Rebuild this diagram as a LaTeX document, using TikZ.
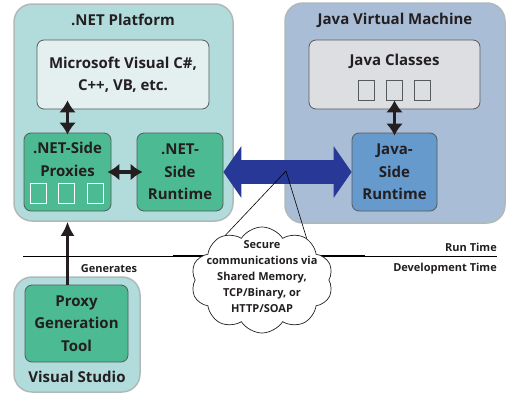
\documentclass[tikz,border=0pt]{standalone}
\usepackage{fontspec}
\setmainfont{Open Sans}
\usetikzlibrary{arrows.meta,shapes.symbols}

\definecolor{netbg}{RGB}{178,220,220}
\definecolor{jvmbg}{RGB}{170,189,214}
\definecolor{rimgray}{RGB}{176,184,186}
\definecolor{msfill}{RGB}{228,239,239}
\definecolor{jcfill}{RGB}{220,222,226}
\definecolor{boxgreen}{RGB}{76,186,146}
\definecolor{jrtblue}{RGB}{102,153,204}
\definecolor{boxedge}{RGB}{85,90,90}
\definecolor{arrowblue}{RGB}{40,56,150}
\definecolor{txt}{RGB}{35,31,32}

\begin{document}
\begin{tikzpicture}[x=1pt,y=-1pt,
    every node/.style={text=txt,font=\bfseries\fontsize{15}{22.5}\selectfont,align=center},
    outerbox/.style={draw=rimgray,line width=1.5pt,rounded corners=18pt,inner sep=0pt},
    innerbox/.style={draw=boxedge,line width=0.8pt,rounded corners=7pt,inner sep=0pt},
    smallsq/.style={line width=0.8pt,minimum width=16pt,minimum height=20pt,inner sep=0pt},
    dbl/.style={{Latex[length=12pt,width=17pt]}-{Latex[length=12pt,width=17pt]},line width=3.2pt,draw=txt},
    small/.style={font=\bfseries\fontsize{11}{16}\selectfont}]
    \useasboundingbox (0,0) rectangle (511,394);

    % outer frames
    \node[outerbox,fill=netbg,minimum width=219pt,minimum height=217pt] (net) at (123.5,112.5) {};
    \node[outerbox,fill=jvmbg,minimum width=220pt,minimum height=220pt] (jvm) at (395,113) {};
    \node[outerbox,fill=netbg,minimum width=126pt,minimum height=115pt] (vs) at (77,334.5) {};
    \node (nettitle) at (123,20) {.NET Platform};
    \node (jvmtitle) at (395,20) {Java Virtual Machine};
    \node (vstitle) at (77,377) {Visual Studio};

    % inner boxes
    \node[innerbox,fill=msfill,minimum width=172pt,minimum height=69pt] (ms) at (123,74.5) {Microsoft Visual C\#,\\C++, VB, etc.};
    \node[innerbox,fill=boxgreen,minimum width=87pt,minimum height=78pt] (proxies) at (67.5,172) {};
    \node (proxtxt) at (67.5,159.5) {.NET-Side\\Proxies};
    \node[innerbox,fill=boxgreen,minimum width=86pt,minimum height=78pt] (netrt) at (180,172) {.NET-\\Side\\Runtime};
    \node[innerbox,fill=jcfill,minimum width=171pt,minimum height=69pt] (jc) at (394.5,74.5) {};
    \node (jctxt) at (394.5,61) {Java Classes};
    \node[innerbox,fill=jrtblue,minimum width=85pt,minimum height=78pt] (jrt) at (394.5,172) {Java-\\Side\\Runtime};
    \node[innerbox,fill=boxgreen,minimum width=103pt,minimum height=77pt] (tool) at (76.5,323.5) {Proxy\\Generation\\Tool};

    % little squares
    \node[smallsq,draw=white] (p1) at (38.5,193.5) {};
    \node[smallsq,draw=white] (p2) at (66,193.5) {};
    \node[smallsq,draw=white] (p3) at (95,193.5) {};
    \node[smallsq,draw=boxedge] (j1) at (366.5,90) {};
    \node[smallsq,draw=boxedge] (j2) at (394.5,90) {};
    \node[smallsq,draw=boxedge] (j3) at (422.5,90) {};

    % connectors
    \draw[dbl,shorten >=-9pt,shorten <=-2pt] (proxies.north) -- (proxies.north |- ms.south);
    \draw[dbl,shorten >=-6pt,shorten <=-4pt] (proxies.east) -- (netrt.west);
    \draw[dbl,shorten >=-9pt,shorten <=-3pt] (jrt.north) -- (jrt.north |- jc.south);
    \draw[-{Latex[length=14pt,width=14pt]},line width=3.4pt,draw=txt] (tool.north -| proxies) -- (net.south -| proxies);
    \draw[{Triangle[length=18pt,width=51pt]}-{Triangle[length=18pt,width=51pt]},line width=24pt,draw=arrowblue] (netrt.east) -- (jrt.west);

    % run time / development time
    \coordinate (rl) at (23,256);
    \coordinate (rr) at (497,256);
    \coordinate (tl) at (173,256);
    \coordinate (tr) at (365,256);
    \draw[line width=0.7pt] (rl) -- (rr);
    \draw[line width=1.3pt] (tl) -- (tr);
    \node[small,anchor=base east,inner sep=0pt] (runlbl) at (497,251) {Run Time};
    \node[small,anchor=base east,inner sep=0pt] (devlbl) at (497,271) {Development Time};
    \node[small,anchor=base] (genlbl) at (109,272) {Generates};

    % cloud callout
    \coordinate (callpt) at (286,171);
    \node[cloud,draw=txt,fill=white,line width=0.7pt,cloud puffs=10,cloud puff arc=115,minimum width=142pt,minimum height=106pt,inner sep=0pt] (cloud) at (262,280) {};
    \draw[line width=0.6pt] (callpt) -- (cloud.129);
    \draw[line width=0.6pt] (callpt) -- (cloud.43);
    \node[font=\bfseries\fontsize{11}{16}\selectfont] (cloudtxt) at (262,277) {Secure\\communications via\\Shared Memory,\\TCP/Binary, or\\HTTP/SOAP};
\end{tikzpicture}
\end{document}
